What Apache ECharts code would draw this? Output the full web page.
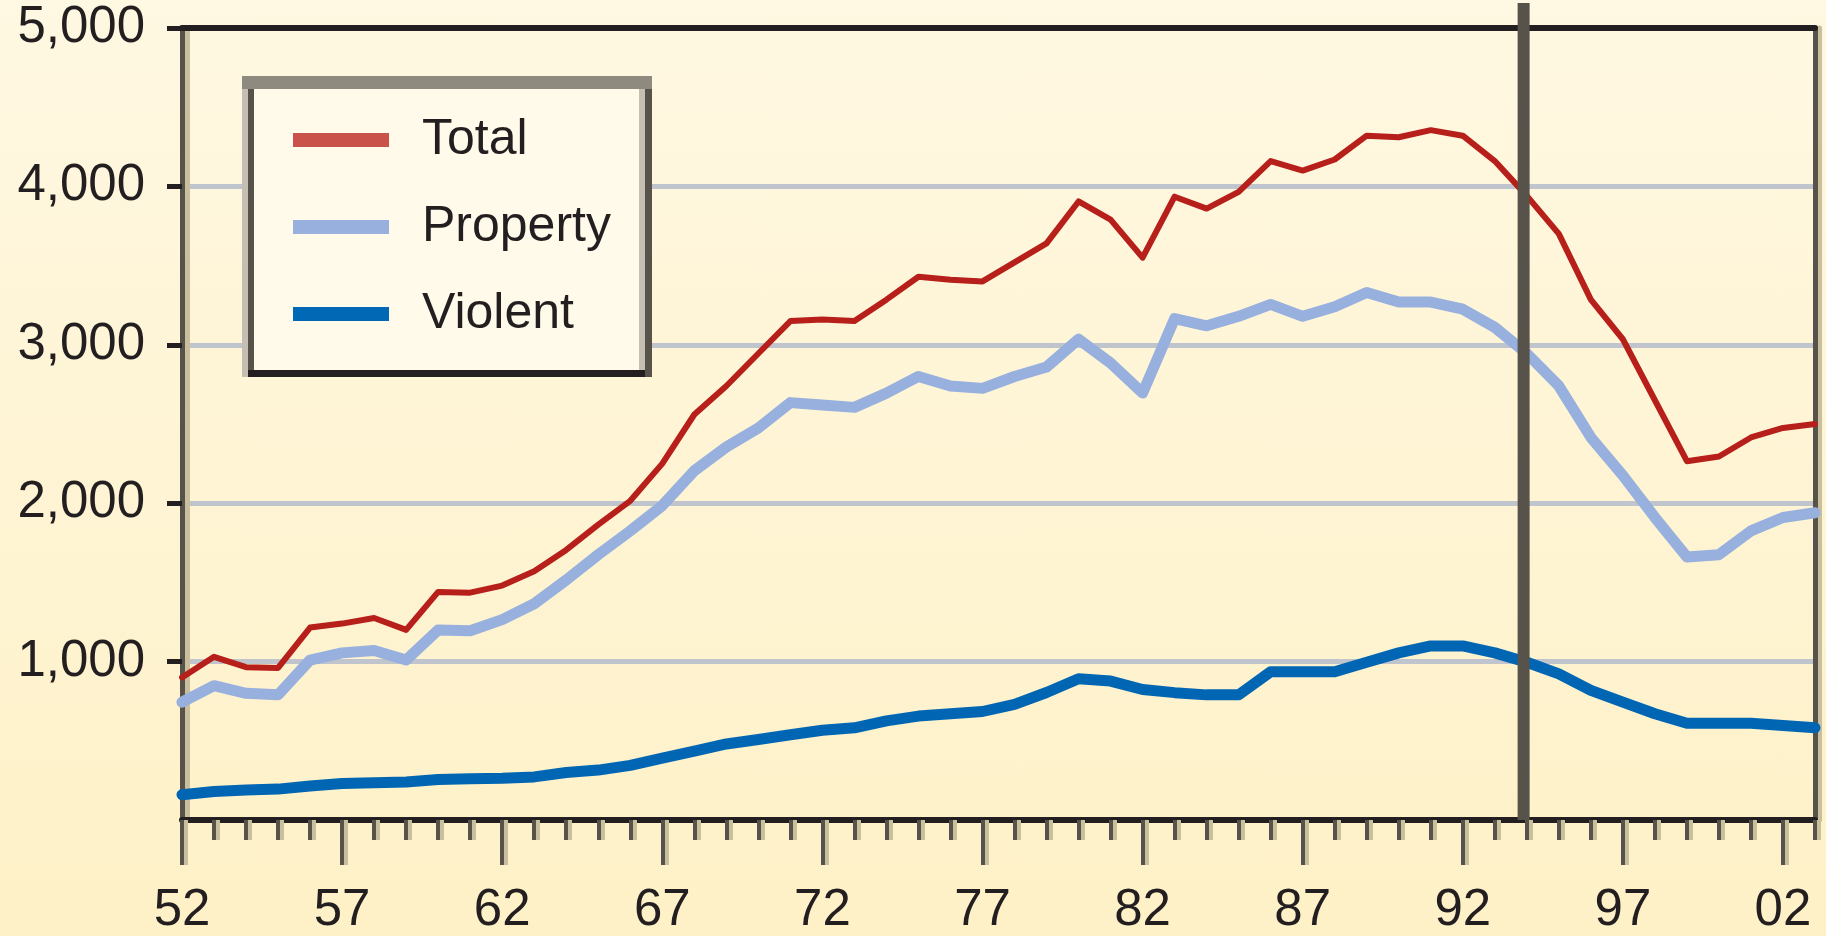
<!DOCTYPE html>
<html>
<head>
<meta charset="utf-8">
<script src="https://cdn.jsdelivr.net/npm/echarts@6/dist/echarts.min.js"></script>
<style>
  html, body { margin: 0; padding: 0; }
  #main {
    width: 1826px;
    height: 936px;
    background: linear-gradient(to bottom, #fff8e2 0%, #fef1c7 100%);
  }
</style>
</head>
<body>
<div id="main"></div>
<script>
// years 1952 - 2003
var years = [];
for (var y = 1952; y <= 2003; y++) years.push(y);

var totalData = [
  900, 1030, 965, 960, 1215, 1240, 1275, 1200, 1440, 1435,
  1480, 1570, 1705, 1865, 2015, 2250, 2560, 2740, 2945, 3150,
  3160, 3150, 3285, 3430, 3410, 3400, 3520, 3640, 3905, 3790,
  3550, 3935, 3860, 3965, 4160, 4100, 4170, 4320, 4310, 4355,
  4320, 4160, 3940, 3700, 3285, 3035, 2650, 2265, 2295, 2415,
  2475, 2500
];
var propertyData = [
  744, 848, 800, 790, 1010, 1055, 1070, 1010, 1200, 1195,
  1265, 1365, 1515, 1675, 1825, 1985, 2205, 2355, 2475, 2635,
  2620, 2605, 2695, 2800, 2740, 2725, 2800, 2860, 3035, 2885,
  2695, 3165, 3120, 3180, 3255, 3180, 3240, 3330, 3270, 3270,
  3225, 3110, 2945, 2740, 2415, 2175, 1910, 1660, 1675, 1825,
  1910, 1940
];
var violentData = [
  160, 180, 190, 195, 215, 230, 235, 240, 255, 260,
  263, 272, 300, 315, 345, 390, 435, 480, 508, 538,
  567, 582, 626, 656, 671, 685, 730, 805, 892, 877,
  824, 804, 790, 790, 936, 936, 936, 996, 1055, 1099,
  1099, 1055, 996, 922, 818, 744, 671, 611, 611, 611,
  597, 582
];
var labelYears = [1952, 1957, 1962, 1967, 1972, 1977, 1982, 1987, 1992, 1997, 2002];
var yTicks = [1000, 2000, 3000, 4000, 5000];
var markYear = 1993.9;

function pairs(vals) {
  return years.map(function (yr, i) { return [yr, vals[i]]; });
}

var font = 'Liberation Sans, Arial, sans-serif';
var chart = echarts.init(document.getElementById('main'), null, { renderer: 'canvas' });

var option = {
  animation: false,
  backgroundColor: 'transparent',
  grid: { left: 182, right: 11, top: 28, bottom: 108, containLabel: false },
  legend: {
    orient: 'vertical',
    left: 293,
    top: 115,
    padding: 0,
    itemGap: 37,
    itemWidth: 96,
    itemHeight: 14,
    icon: 'rect',
    selectedMode: false,
    z: 10,
    textStyle: { fontSize: 50, color: '#231f20', fontFamily: font, lineHeight: 50, padding: [0, 0, 0, 28] },
    data: [
      { name: 'Total', itemStyle: { color: '#c9534a' } },
      { name: 'Property', itemStyle: { color: '#98b0de' } },
      { name: 'Violent', itemStyle: { color: '#0068b4' } }
    ]
  },
  xAxis: [
    {
      // minor ticks, one per year
      type: 'value', min: 1952, max: 2003, interval: 1, position: 'bottom',
      axisLine: { show: true, lineStyle: { color: '#231f20', width: 6 } },
      axisTick: { show: true, length: 20, lineStyle: { color: '#58534a', width: 4, shadowColor: '#cabf9d', shadowOffsetX: 4 } },
      axisLabel: { show: false },
      splitLine: { show: false }
    },
    {
      // long ticks + labels every 5 years
      type: 'value', min: 1952, max: 2003, position: 'bottom',
      axisLine: { show: false },
      axisTick: { show: true, length: 45, customValues: labelYears, lineStyle: { color: '#58534a', width: 4, shadowColor: '#cabf9d', shadowOffsetX: 4 } },
      axisLabel: {
        customValues: labelYears,
        margin: 65,
        fontSize: 51,
        fontFamily: font,
        color: '#231f20',
        formatter: function (v) { var s = String(v % 100); return s.length < 2 ? '0' + s : s; }
      },
      splitLine: { show: false }
    },
    {
      // top border
      type: 'value', min: 1952, max: 2003, position: 'top',
      axisLine: { show: true, lineStyle: { color: '#231f20', width: 6 } },
      axisTick: { show: false },
      axisLabel: { show: false },
      splitLine: { show: false }
    }
  ],
  yAxis: [
    {
      type: 'value', min: 0, max: 5000, interval: 1000, position: 'left',
      axisLine: { show: true, lineStyle: { color: '#58534a', width: 5, shadowColor: '#cabf9d', shadowOffsetX: 5 } },
      axisTick: { show: true, length: 15, customValues: yTicks, lineStyle: { color: '#231f20', width: 5 } },
      axisLabel: {
        margin: 37,
        fontSize: 51,
        fontFamily: font,
        color: '#231f20',
        formatter: function (v) { return v === 0 ? '' : v.toLocaleString('en-US'); }
      },
      splitLine: { show: true, lineStyle: { color: '#c0c4cc', width: 5 } }
    },
    {
      // right border
      type: 'value', min: 0, max: 5000, position: 'right',
      axisLine: { show: true, lineStyle: { color: '#58534a', width: 5, shadowColor: '#cabf9d', shadowOffsetX: 4 } },
      axisTick: { show: false },
      axisLabel: { show: false },
      splitLine: { show: false }
    }
  ],
  series: [
    {
      name: 'Violent', type: 'line', xAxisIndex: 0, yAxisIndex: 0,
      data: pairs(violentData), symbol: 'none', z: 3,
      itemStyle: { color: '#0066b3' },
      lineStyle: { color: '#0066b3', width: 11, join: 'round', cap: 'round' }
    },
    {
      name: 'Property', type: 'line', xAxisIndex: 0, yAxisIndex: 0,
      data: pairs(propertyData), symbol: 'none', z: 3,
      itemStyle: { color: '#98b0de' },
      lineStyle: { color: '#98b0de', width: 11, join: 'round', cap: 'round' }
    },
    {
      name: 'Total', type: 'line', xAxisIndex: 0, yAxisIndex: 0,
      data: pairs(totalData), symbol: 'none', z: 4,
      itemStyle: { color: '#b71f1b' },
      lineStyle: { color: '#b71f1b', width: 6, join: 'round', cap: 'round' }
    }
  ]
};
chart.setOption(option);

// vertical marker line and legend frame
var mx = chart.convertToPixel({ xAxisIndex: 0 }, markYear);
var y0 = chart.convertToPixel({ yAxisIndex: 0 }, 0);

chart.setOption({
  graphic: { elements: [
    // legend frame
    { type: 'rect', z: 8, shape: { x: 242, y: 76, width: 410, height: 301 }, style: { fill: '#58534a' } },
    { type: 'rect', z: 8, shape: { x: 242, y: 89, width: 6, height: 288 }, style: { fill: '#c4bfb2' } },
    { type: 'rect', z: 8, shape: { x: 254, y: 89, width: 385, height: 281 }, style: { fill: '#fffae9' } },
    { type: 'rect', z: 8, shape: { x: 639, y: 89, width: 6, height: 281 }, style: { fill: '#c4bfb2' } },
    { type: 'rect', z: 8, shape: { x: 242, y: 76, width: 410, height: 13 }, style: { fill: '#8e8a80' } },
    { type: 'rect', z: 8, shape: { x: 248, y: 370, width: 397, height: 7 }, style: { fill: '#231f20' } },
    // marker line
    { type: 'line', z: 20, shape: { x1: mx, y1: 3, x2: mx, y2: y0 }, style: { stroke: '#58534a', lineWidth: 12 } }
  ] }
});
</script>
</body>
</html>
